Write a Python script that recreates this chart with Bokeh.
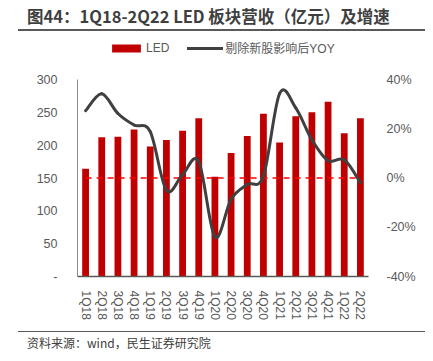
import numpy as np
from bokeh.plotting import figure
from bokeh.models import (Range1d, LinearAxis, FixedTicker, NumeralTickFormatter, Legend,
                          LegendItem, ColumnDataSource, Div)
from bokeh.layouts import column
from bokeh.embed import file_html
from bokeh.resources import INLINE

# ---------------- data ----------------
quarters = ["1Q18", "2Q18", "3Q18", "4Q18", "1Q19", "2Q19", "3Q19", "4Q19",
            "1Q20", "2Q20", "3Q20", "4Q20", "1Q21", "2Q21", "3Q21", "4Q21",
            "1Q22", "2Q22"]
revenue = [164, 212, 213, 224, 198, 208, 222, 241, 152, 188, 214, 248,
           204, 244, 250, 266, 218, 241]          # 亿元
yoy = [0.273, 0.342, 0.262, 0.215, 0.188, -0.050, 0.014, 0.067, -0.240,
       -0.086, -0.026, 0.008, 0.343, 0.285, 0.155, 0.070, 0.074, -0.019]
left_ticks = [0, 50, 100, 150, 200, 250, 300]
right_ticks = [-0.4, -0.2, 0.0, 0.2, 0.4]

title_text = "图44：1Q18-2Q22 LED 板块营收（亿元）及增速"
source_text = "资料来源：wind，民生证券研究院"
legend_bar = "LED"
legend_line = "剔除新股影响后YOY"

W = 425
LABEL_FONT = "Liberation Sans, Noto Sans CJK SC"
GREY = "#595959"
BAR_RED = "#C00000"
LINE_GREY = "#404040"

# ---------------- title (with rule underneath) ----------------
title_div = Div(
    text=('<div style="box-sizing:content-box;margin:0 0 0 18px;width:398px;'
          'padding:7px 0 3px 9px;border-bottom:2px solid #595959;line-height:19px;'
          "font-family:'Noto Sans CJK SC',sans-serif;font-weight:bold;font-size:16.5px;"
          'color:#3f3f3f;white-space:nowrap;">' + title_text + '</div>'),
    width=W, height=31, margin=0)

# ---------------- legend strip ----------------
LEG_H = 40
leg = figure(frame_width=W, frame_height=LEG_H, x_range=Range1d(0, W), y_range=Range1d(0, LEG_H),
             x_axis_location=None, y_axis_location=None, toolbar_location=None,
             min_border=0, output_backend="svg")
leg.outline_line_color = None
leg.grid.visible = False
leg.frame_align = False
# legend swatches (NaN data: nothing drawn, only carry the styling of the real glyphs)
dummy = ColumnDataSource(dict(x=np.array([np.nan]), top=np.array([np.nan]), y=np.array([np.nan])))
lg_bar = leg.vbar(x="x", top="top", width=1, source=dummy, fill_color=BAR_RED, line_color=None)
lg_line = leg.line(x="x", y="y", source=dummy, line_color=LINE_GREY, line_width=3, line_cap="round")
legend = Legend(items=[LegendItem(label=legend_bar, renderers=[lg_bar]),
                       LegendItem(label=legend_line, renderers=[lg_line])],
                orientation="horizontal", location=(108, LEG_H - 18 - 7),
                glyph_width=36, glyph_height=10, label_standoff=2, spacing=18,
                padding=0, margin=0, border_line_color=None, background_fill_alpha=0,
                label_text_font=LABEL_FONT, label_text_font_size="12px",
                label_text_color=GREY, label_height=14)
leg.add_layout(legend, "center")

# ---------------- main chart ----------------
n = len(quarters)
xs = list(range(n))
p = figure(width=W, height=251, x_range=Range1d(-0.5, n - 0.5), y_range=Range1d(0, 300),
           toolbar_location=None, output_backend="svg",
           min_border_left=77, min_border_right=57, min_border_top=8, min_border_bottom=44)
p.outline_line_color = None
p.grid.visible = False
p.frame_align = False
p.extra_y_ranges = {"yoy": Range1d(-0.4, 0.4)}

src = ColumnDataSource(dict(x=xs, rev=revenue, q=quarters))
bars = p.vbar(x="x", top="rev", width=0.42, source=src, fill_color=BAR_RED, line_color=None)

# zero reference line on the YOY axis
p.segment(x0=[xs[0]], y0=[0], x1=[xs[-1]], y1=[0], y_range_name="yoy",
          line_color="#FF0000", line_width=1.5, line_dash="6 5")

# smoothed YOY curve (cubic Bezier through the data points)
def pt(i):
    i = min(max(i, 0), n - 1)
    return xs[i], yoy[i]

bz = dict(x0=[], y0=[], x1=[], y1=[], cx0=[], cy0=[], cx1=[], cy1=[])
for i in range(n - 1):
    xa, ya = pt(i)
    xb, yb = pt(i + 1)
    xp, yp = pt(i - 1)
    xn, yn = pt(i + 2)
    bz["x0"].append(xa); bz["y0"].append(ya)
    bz["x1"].append(xb); bz["y1"].append(yb)
    bz["cx0"].append(xa + (xb - xp) / 6); bz["cy0"].append(ya + (yb - yp) / 6)
    bz["cx1"].append(xb - (xn - xa) / 6); bz["cy1"].append(yb - (yn - ya) / 6)
p.bezier(x0="x0", y0="y0", x1="x1", y1="y1", cx0="cx0", cy0="cy0",
         cx1="cx1", cy1="cy1", source=ColumnDataSource(bz), y_range_name="yoy",
         line_color=LINE_GREY, line_width=3, line_cap="round")

# axes
xa_ = p.xaxis[0]
xa_.ticker = FixedTicker(ticks=xs)
xa_.major_label_overrides = {i: q for i, q in enumerate(quarters)}
xa_.major_label_orientation = "vertical"
xa_.major_tick_line_color = None
xa_.minor_tick_line_color = None
xa_.axis_line_color = GREY
xa_.axis_line_width = 1.5
xa_.major_label_standoff = 8
xa_.major_label_text_font = "Liberation Sans"
xa_.major_label_text_font_size = "12px"
xa_.major_label_text_color = GREY

ya_ = p.yaxis[0]
ya_.ticker = FixedTicker(ticks=left_ticks)
ya_.major_label_overrides = {0: "-"}
ya_.major_tick_line_color = None
ya_.minor_tick_line_color = None
ya_.axis_line_color = "#8c8c8c"
ya_.major_label_standoff = 14
ya_.major_label_text_font = "Liberation Sans"
ya_.major_label_text_font_size = "12.5px"
ya_.major_label_text_color = GREY

ra = LinearAxis(y_range_name="yoy", ticker=FixedTicker(ticks=right_ticks),
                formatter=NumeralTickFormatter(format="0%"))
ra.major_tick_line_color = None
ra.minor_tick_line_color = None
ra.axis_line_color = None
ra.major_label_standoff = 12
ra.major_label_text_font = "Liberation Sans"
ra.major_label_text_font_size = "12.5px"
ra.major_label_text_color = GREY
p.add_layout(ra, "right")

# ---------------- source (with rule above) ----------------
source_div = Div(
    text=('<div style="box-sizing:content-box;margin:9px 0 0 18px;width:398px;'
          'padding:2px 0 0 9px;border-top:1.5px solid #595959;line-height:17px;'
          "font-family:'Noto Sans CJK SC',sans-serif;font-size:12px;"
          'color:#404040;white-space:nowrap;">' + source_text + '</div>'),
    width=W, height=36, margin=0)

layout = column(title_div, leg, p, source_div, spacing=0)
open("out.html", "w").write(file_html(layout, INLINE))
